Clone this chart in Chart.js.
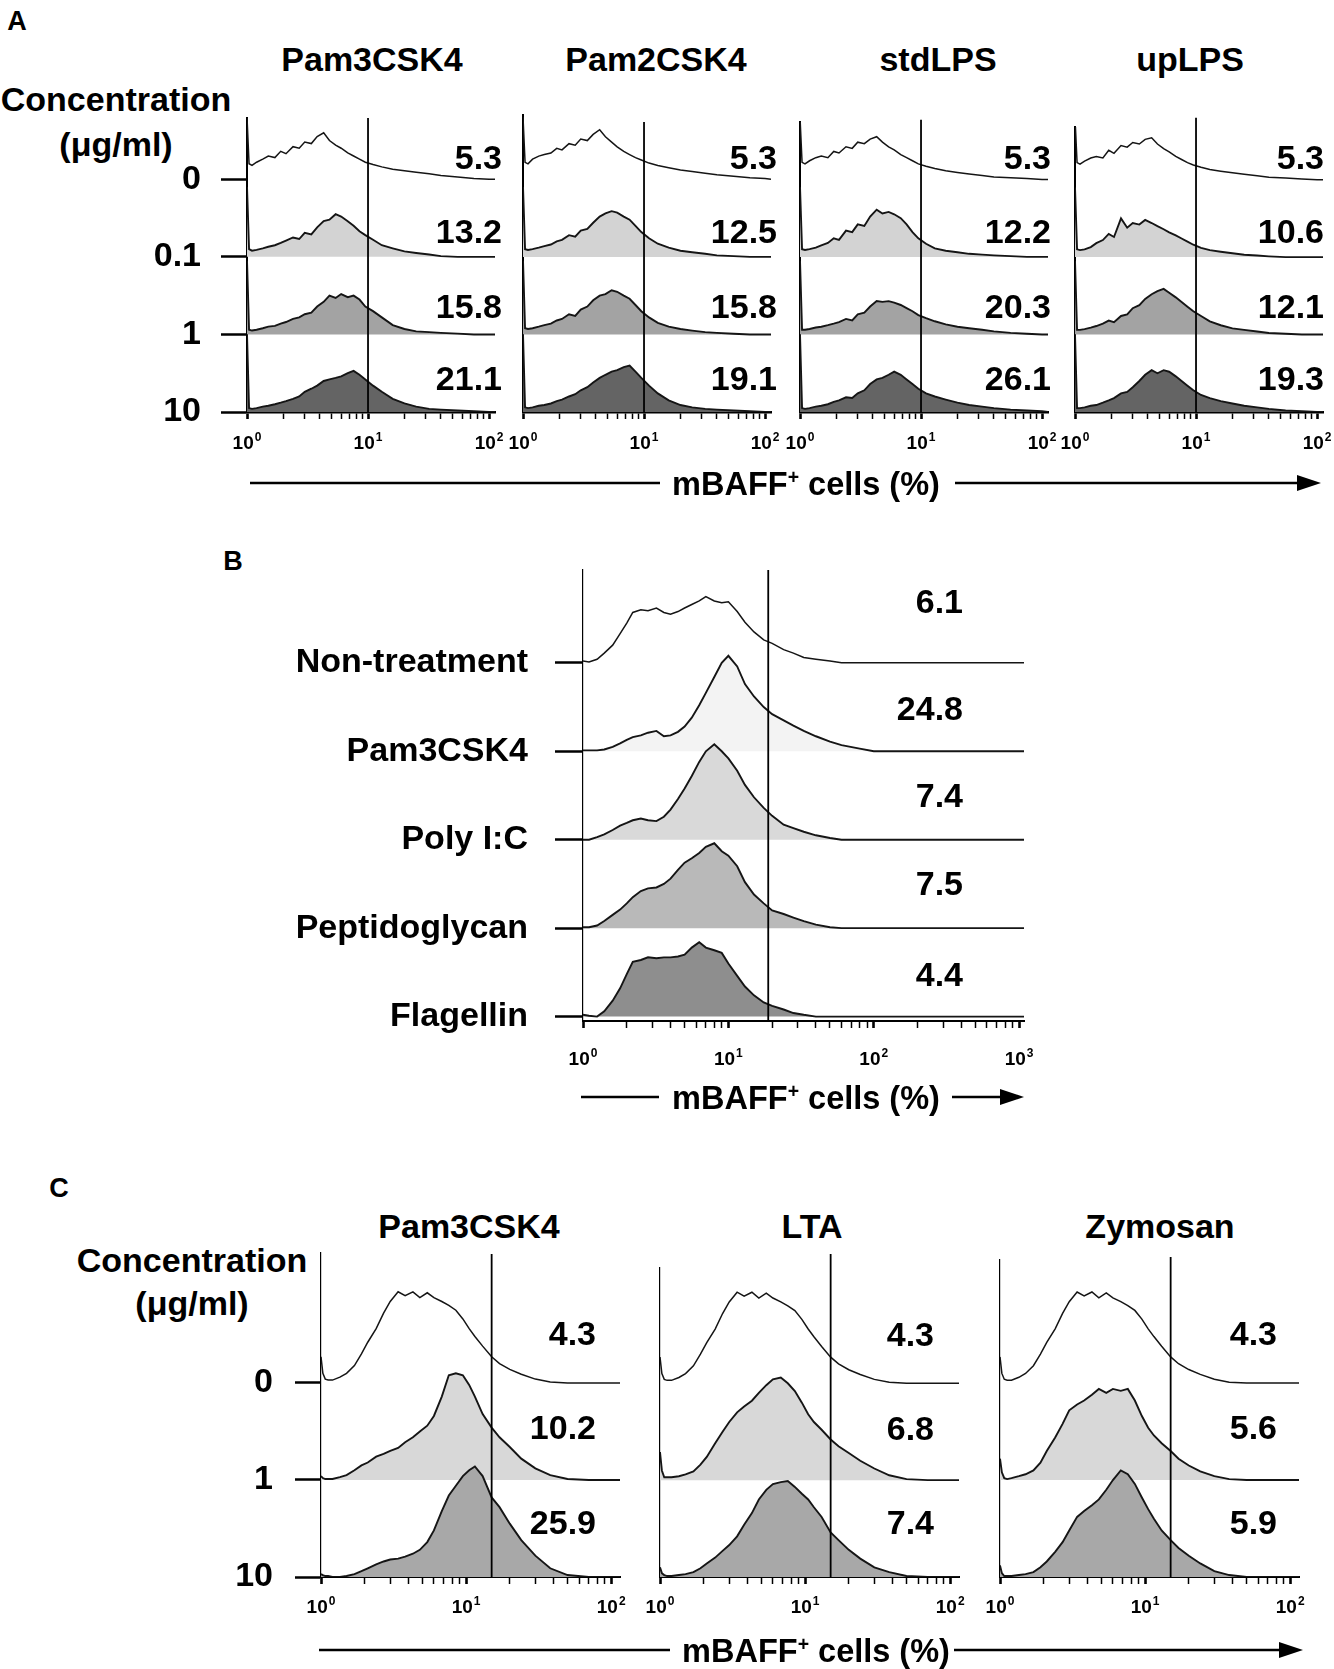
<!DOCTYPE html>
<html>
<head>
<meta charset="utf-8">
<script src="https://cdn.jsdelivr.net/npm/chart.js@4.4.1/dist/chart.umd.min.js"></script>
<style>
  body { margin: 0; background: #fff; }
  #page { position: relative; width: 1334px; height: 1669px; overflow: hidden;
          font-family: "Liberation Sans", Arial, sans-serif; font-weight: bold; color: #000; }
  .t { position: absolute; transform: translate(-50%, -50%); white-space: nowrap; line-height: 1; }
  canvas, svg { position: absolute; }
</style>
</head>
<body>
<div id="page"></div>
<script>
// ---------- data ----------
// channel positions (mBAFF intensity, log axis) where the histograms were read
const xA = [1, 1.04, 1.1, 1.2, 1.35, 1.5, 1.7, 1.9, 2.1, 2.4, 2.7, 3, 3.4, 3.8, 4.3, 4.8, 5.4, 6, 6.8, 7.6, 8.5, 9.5, 11, 13, 16, 20, 25, 32, 40, 55, 75, 100, 112];
const xB = [1, 1.1, 1.25, 1.4, 1.6, 1.8, 2, 2.2, 2.5, 2.8, 3.2, 3.6, 4, 4.5, 5, 5.6, 6.3, 7, 8, 9, 10, 11.5, 13, 15, 17.5, 20, 24, 28, 33, 40, 50, 60, 80, 100, 150, 1000, 1080];
const xC = [1, 1.03, 1.07, 1.12, 1.2, 1.35, 1.5, 1.7, 1.9, 2.1, 2.4, 2.7, 3, 3.4, 3.8, 4.3, 4.8, 5.4, 6, 6.8, 7.6, 8.5, 9.5, 10.5, 11.5, 13, 15, 17, 20, 24, 30, 38, 50, 70, 100, 115];

const ticks2 = [1, 2, 3, 4, 5, 6, 7, 8, 9, 10, 20, 30, 40, 50, 60, 70, 80, 90, 100];
const ticks3 = [1, 2, 3, 4, 5, 6, 7, 8, 9, 10, 20, 30, 40, 50, 60, 70, 80, 90, 100, 200, 300, 400, 500, 600, 700, 800, 900, 1000];
const decades2 = [1, 10, 100];
const decades3 = [1, 10, 100, 1000];

// Panel A: concentration rows 0, 0.1, 1, 10 ug/ml
const titlesA = ['Pam3CSK4', 'Pam2CSK4', 'stdLPS', 'upLPS'];
const concA = ['0', '0.1', '1', '10'];
const pam3A = [
  [80, 20, 18, 22, 26, 30, 28, 36, 33, 42, 40, 48, 46, 55, 60, 50, 44, 40, 34, 30, 26, 22, 19, 16, 13, 11, 9, 7, 5, 3, 1, 0, 0],
  [90, 10, 8, 9, 11, 13, 15, 18, 21, 25, 23, 31, 29, 38, 46, 48, 55, 52, 46, 40, 33, 28, 22, 15, 11, 7, 5, 3, 1, 0, 0, 0, 0],
  [95, 6, 5, 6, 8, 10, 11, 14, 16, 20, 22, 26, 28, 36, 42, 50, 47, 52, 48, 50, 45, 36, 30, 22, 12, 7, 4, 3, 2, 1, 0, 0, 0],
  [100, 5, 4, 5, 7, 8, 10, 12, 14, 17, 20, 26, 30, 34, 40, 42, 44, 46, 50, 53, 48, 42, 34, 26, 17, 11, 7, 4, 3, 2, 1, 0, 0]
];
const pam2A = [
  [80, 22, 20, 26, 30, 32, 34, 40, 38, 46, 44, 52, 50, 58, 64, 55, 48, 42, 36, 32, 28, 25, 21, 18, 15, 12, 10, 8, 6, 4, 2, 1, 0],
  [90, 10, 9, 10, 12, 14, 16, 20, 22, 28, 26, 34, 36, 44, 52, 56, 59, 57, 52, 48, 40, 32, 24, 17, 12, 8, 6, 4, 2, 1, 0, 0, 0],
  [95, 8, 7, 8, 10, 12, 14, 18, 20, 26, 24, 32, 36, 44, 50, 52, 57, 55, 50, 46, 38, 30, 22, 15, 10, 7, 5, 3, 2, 1, 0, 0, 0],
  [100, 6, 5, 6, 8, 9, 11, 14, 16, 20, 23, 28, 32, 38, 44, 48, 52, 54, 58, 60, 52, 44, 34, 24, 15, 9, 6, 4, 3, 2, 1, 0, 0]
];
const stdLpsA = [
  [80, 22, 20, 24, 28, 30, 28, 36, 34, 42, 40, 48, 46, 52, 55, 48, 42, 38, 32, 28, 24, 20, 17, 14, 11, 9, 7, 5, 3, 2, 1, 0, 0],
  [90, 10, 9, 10, 12, 15, 18, 24, 22, 34, 32, 42, 40, 52, 61, 56, 58, 55, 50, 42, 32, 24, 17, 11, 8, 6, 4, 3, 2, 1, 0, 0, 0],
  [95, 6, 6, 7, 9, 10, 12, 14, 16, 20, 18, 26, 28, 36, 43, 42, 43, 41, 38, 34, 30, 25, 21, 17, 13, 10, 8, 6, 4, 2, 1, 0, 0],
  [100, 5, 4, 5, 7, 8, 10, 13, 15, 19, 18, 24, 28, 36, 42, 44, 48, 52, 48, 42, 36, 30, 24, 20, 16, 12, 9, 7, 5, 3, 2, 1, 0]
];
const upLpsA = [
  [80, 22, 20, 24, 28, 30, 28, 38, 34, 44, 42, 48, 46, 52, 54, 46, 40, 36, 30, 26, 22, 19, 16, 13, 11, 9, 7, 5, 3, 2, 1, 0, 0],
  [90, 10, 9, 10, 13, 18, 22, 30, 26, 50, 38, 44, 42, 48, 44, 40, 36, 32, 28, 24, 20, 16, 12, 9, 7, 5, 3, 2, 1, 0, 0, 0, 0],
  [95, 6, 6, 7, 9, 11, 14, 18, 16, 24, 26, 34, 38, 46, 52, 56, 59, 54, 48, 42, 36, 30, 24, 17, 12, 8, 6, 4, 2, 1, 0, 0, 0],
  [100, 5, 5, 6, 8, 9, 12, 15, 18, 24, 26, 32, 40, 48, 54, 50, 54, 52, 46, 40, 34, 28, 22, 18, 14, 11, 8, 6, 4, 2, 1, 0, 0]
];
const pctA = [
  ['5.3', '13.2', '15.8', '21.1'],
  ['5.3', '12.5', '15.8', '19.1'],
  ['5.3', '12.2', '20.3', '26.1'],
  ['5.3', '10.6', '12.1', '19.3']
];
const gateA = 10;

// Panel B: TLR ligands
const treatB = ['Non-treatment', 'Pam3CSK4', 'Poly I:C', 'Peptidoglycan', 'Flagellin'];
const histB = [
  [2, 1, 4, 11, 20, 33, 45, 57, 60, 59, 62, 57, 55, 58, 62, 66, 70, 75, 70, 68, 69, 58, 46, 35, 26, 22, 15, 11, 6, 4, 2, 0, 0, 0, 0, 0, 0],
  [1, 1, 1, 2, 5, 9, 13, 16, 18, 21, 23, 17, 18, 22, 28, 38, 52, 66, 84, 100, 108, 96, 76, 62, 50, 42, 35, 29, 23, 17, 11, 7, 3, 0, 0, 0, 0],
  [0, 0, 3, 6, 11, 16, 19, 22, 24, 22, 21, 26, 34, 46, 58, 72, 88, 100, 108, 100, 92, 78, 62, 48, 36, 27, 17, 13, 9, 5, 2, 0, 0, 0, 0, 0, 0],
  [1, 1, 3, 8, 15, 21, 28, 35, 42, 45, 46, 50, 56, 66, 74, 79, 85, 92, 96, 87, 82, 70, 52, 38, 28, 20, 16, 12, 8, 4, 1, 0, 0, 0, 0, 0, 0],
  [2, 1, 0, 6, 18, 32, 48, 62, 64, 67, 66, 67, 67, 68, 70, 78, 84, 78, 75, 72, 60, 46, 34, 24, 16, 12, 8, 4, 2, 0, 0, 0, 0, 0, 0, 0, 0]
];
const pctB = ['6.1', '24.8', '7.4', '7.5', '4.4'];
const gateB = 18.8;

// Panel C: concentration rows 0, 1, 10 ug/ml (row 0 is the same untreated control)
const titlesC = ['Pam3CSK4', 'LTA', 'Zymosan'];
const concC = ['0', '1', '10'];
const ctrlC = [27, 10, 4, 3, 3, 6, 10, 18, 30, 42, 56, 72, 84, 94, 90, 94, 88, 93, 88, 84, 80, 75, 66, 56, 48, 38, 27, 20, 14, 9, 4, 1, 0, 0, 0, 0];
const pam3C = [
  ctrlC,
  [4, 2, 1, 1, 1, 3, 5, 10, 15, 18, 24, 27, 30, 33, 39, 44, 50, 56, 66, 86, 108, 110, 108, 98, 86, 68, 54, 44, 34, 22, 12, 5, 1, 0, 0, 0],
  [3, 2, 1, 1, 0, 0, 1, 3, 6, 9, 13, 16, 18, 19, 21, 24, 28, 36, 48, 68, 84, 94, 104, 110, 114, 104, 82, 72, 55, 38, 22, 9, 2, 0, 0, 0]
];
const ltaC = [
  ctrlC,
  [29, 10, 3, 3, 3, 4, 6, 9, 16, 24, 38, 50, 60, 70, 76, 82, 90, 98, 104, 106, 100, 92, 80, 68, 60, 52, 42, 35, 28, 20, 12, 5, 1, 0, 0, 0],
  [10, 4, 2, 1, 1, 2, 3, 5, 9, 14, 20, 27, 33, 42, 54, 66, 80, 90, 96, 98, 99, 93, 86, 80, 72, 62, 46, 38, 28, 19, 10, 5, 1, 0, 0, 0]
];
const zymC = [
  ctrlC,
  [22, 8, 2, 1, 2, 4, 6, 10, 18, 30, 44, 58, 72, 78, 82, 88, 94, 90, 94, 92, 94, 82, 66, 54, 46, 38, 30, 22, 15, 9, 4, 1, 0, 0, 0, 0],
  [12, 4, 1, 1, 1, 2, 3, 5, 10, 16, 26, 36, 48, 62, 68, 74, 80, 90, 100, 110, 106, 96, 82, 70, 60, 48, 38, 30, 22, 14, 6, 2, 0, 0, 0, 0]
];
const pctC = [
  ['4.3', '10.2', '25.9'],
  ['4.3', '6.8', '7.4'],
  ['4.3', '5.6', '5.9']
];
const gateC = 15;

// ---------- drawing ----------
const FONT = '"Liberation Sans", Arial, sans-serif';
const BIG = 34;
Chart.defaults.font.family = FONT;
Chart.defaults.color = '#000';
const page = document.getElementById('page');

function text(str, x, y, size) {
  const d = document.createElement('div');
  d.className = 't';
  d.style.left = x + 'px';
  d.style.top = y + 'px';
  d.style.fontSize = size + 'px';
  d.innerHTML = str;
  page.appendChild(d);
}

// x-axis caption with long arrow, as in the figure
const svgNS = 'http://www.w3.org/2000/svg';
const svg = document.createElementNS(svgNS, 'svg');
svg.setAttribute('width', 1334);
svg.setAttribute('height', 1669);
svg.style.left = '0px';
svg.style.top = '0px';
page.appendChild(svg);
function hline(x1, x2, y) {
  const l = document.createElementNS(svgNS, 'line');
  l.setAttribute('x1', x1); l.setAttribute('x2', x2);
  l.setAttribute('y1', y); l.setAttribute('y2', y);
  l.setAttribute('stroke', '#000'); l.setAttribute('stroke-width', 2.5);
  svg.appendChild(l);
}
function arrowCaption(y, x1, x2, tx, x3, x4) {
  hline(x1, x2, y);
  hline(x3, x4 - 18, y);
  const head = document.createElementNS(svgNS, 'polygon');
  head.setAttribute('points', (x4 - 24) + ',' + (y - 8) + ' ' + x4 + ',' + y + ' ' + (x4 - 24) + ',' + (y + 8));
  head.setAttribute('fill', '#000');
  svg.appendChild(head);
  text('mBAFF<sup style="font-size:0.6em;vertical-align:0.55em">+</sup> cells (%)', tx, y + 1, 32.5);
}

function labelPlugin(o) {
  return {
    id: 'panelText',
    afterDraw(chart) {
      const ctx = chart.ctx, xs = chart.scales.x, ys = chart.scales.y, ca = chart.chartArea;
      const n = o.rows.length;
      ctx.save();
      ctx.fillStyle = '#000';
      ctx.textBaseline = 'middle';
      // decade labels 10^k under the log axis
      o.decades.forEach(v => {
        const k = String(Math.round(Math.log10(v)));
        const px = xs.getPixelForValue(v);
        const y = ca.bottom + o.tickDy;
        ctx.font = 'bold 19px ' + FONT;
        const w1 = ctx.measureText('10').width;
        ctx.font = 'bold 12px ' + FONT;
        const w2 = ctx.measureText(k).width;
        const left = px - (w1 + w2 + 1) / 2;
        ctx.textAlign = 'left';
        ctx.font = 'bold 19px ' + FONT;
        ctx.fillText('10', left, y);
        ctx.font = 'bold 12px ' + FONT;
        ctx.fillText(k, left + w1 + 1, y - 6);
      });
      // row labels left of the tick marks
      if (o.rowLabels) {
        ctx.font = 'bold ' + BIG + 'px ' + FONT;
        ctx.textAlign = 'right';
        o.rowLabels.forEach((t, r) => {
          ctx.fillText(t, ca.left - o.rowTick - o.rowGap, ys.getPixelForValue((n - 1 - r) * 100));
        });
      }
      // % positive cells
      ctx.font = 'bold ' + BIG + 'px ' + FONT;
      ctx.textAlign = 'right';
      o.values.forEach((t, r) => {
        ctx.fillText(t, ca.right + o.valueDx, ys.getPixelForValue((n - 1 - r) * 100) - o.valueDy[r]);
      });
      ctx.restore();
    }
  };
}

function isDecade(v) {
  const l = Math.log10(v);
  return Math.abs(l - Math.round(l)) < 1e-9;
}

function histPanel(o) {
  const padT = 14, padR = 24, xAxisH = 60;
  const plotH = Math.round((o.yMax - o.yMin) * o.unit);
  const top = o.bottom - plotH;
  const cw = o.yW + o.width + padR, ch = padT + plotH + xAxisH;
  const canvas = document.createElement('canvas');
  canvas.width = cw; canvas.height = ch;
  canvas.style.width = cw + 'px'; canvas.style.height = ch + 'px';
  canvas.style.left = (o.x0 - o.yW) + 'px';
  canvas.style.top = (top - padT) + 'px';
  page.appendChild(canvas);

  const n = o.rows.length;
  const bases = o.rows.map((_, r) => (n - 1 - r) * 100);
  const sets = o.rows.map((counts, r) => ({
    data: o.xs.map((x, i) => ({ x: x, y: counts[i] + bases[r] })),
    fill: o.fills[r] ? { value: bases[r] } : false,
    backgroundColor: o.fills[r] || 'rgba(0,0,0,0)',
    borderColor: '#151515',
    borderWidth: o.fills[r] ? 1.9 : 1.5,
    pointRadius: 0,
    tension: 0,
    order: n - r
  }));
  sets.push({
    data: [{ x: o.gate, y: o.yMin }, { x: o.gate, y: o.gateTop }],
    borderColor: '#000', borderWidth: 1.8, pointRadius: 0, fill: false, clip: false, order: 0
  });

  new Chart(canvas, {
    type: 'line',
    data: { datasets: sets },
    options: {
      responsive: false,
      animation: false,
      events: [],
      layout: { padding: { top: padT, right: padR, left: 0, bottom: 0 } },
      plugins: { legend: { display: false }, tooltip: { enabled: false } },
      scales: {
        x: {
          type: 'logarithmic', min: 1, max: o.xMax,
          afterBuildTicks: s => { s.ticks = o.ticks.map(v => ({ value: v })); },
          afterFit: s => { s.height = xAxisH; },
          ticks: { display: false },
          grid: {
            display: true, drawOnChartArea: false, drawTicks: true, tickLength: 7, tickColor: '#000',
            tickWidth: c => (c.tick && isDecade(c.tick.value)) ? 2.6 : 1.5
          },
          border: { display: true, color: '#000', width: o.xBorder }
        },
        y: {
          type: 'linear', min: o.yMin, max: o.yMax,
          afterBuildTicks: s => { s.ticks = bases.map(v => ({ value: v })); },
          afterFit: s => { s.width = o.yW; },
          ticks: { display: false },
          grid: { display: !!o.rowLabels, drawOnChartArea: false, drawTicks: true, tickLength: o.rowTick || 0, tickWidth: 2.5, tickColor: '#000' },
          border: { display: true, color: '#000', width: o.yBorder }
        }
      }
    },
    plugins: [labelPlugin(o)]
  });
}

// ----- panel A -----
text('A', 17, 21, 27);
text('Concentration', 116, 99, BIG);
text('(&mu;g/ml)', 116, 144, BIG);
const colsA = [
  { x0: 247, rows: pam3A, top: 118, gateTop: 379, titleX: 372, dx: 7 },
  { x0: 523, rows: pam2A, top: 115, gateTop: 374, titleX: 656, dx: 6 },
  { x0: 800, rows: stdLpsA, top: 122, gateTop: 377, titleX: 938, dx: 3 },
  { x0: 1075, rows: upLpsA, top: 127, gateTop: 380, titleX: 1190, dx: 1 }
];
colsA.forEach((c, i) => {
  text(titlesA[i], c.titleX, 59, BIG);
  histPanel({
    x0: c.x0, width: 248, xMax: 112, xs: xA, rows: c.rows, ticks: ticks2, decades: decades2,
    bottom: 412, unit: 0.775, yMin: 0, yMax: Math.round((412 - c.top) / 0.775), gateTop: c.gateTop, gate: gateA,
    fills: [null, '#d3d3d3', '#a3a3a3', '#646464'],
    values: pctA[i], valueDx: c.dx, valueDy: [20, 23, 26, 31], tickDy: 32,
    rowLabels: i === 0 ? concA : null, rowTick: 26, rowGap: 20,
    yW: i === 0 ? 120 : 20, xBorder: 2.5, yBorder: 2
  });
});
arrowCaption(483, 250, 660, 806, 955, 1321);

// ----- panel B -----
text('B', 233, 561, 27);
histPanel({
  x0: 583, width: 441, xMax: 1080, xs: xB, rows: histB, ticks: ticks3, decades: decades3,
  bottom: 1021, unit: 0.885, yMin: -5, yMax: 505, gateTop: 505, gate: gateB,
  fills: [null, '#f3f3f3', '#d9d9d9', '#b9b9b9', '#8e8e8e'],
  values: pctB, valueDx: -61, valueDy: [59, 41, 42, 43, 40], tickDy: 39,
  rowLabels: treatB, rowTick: 28, rowGap: 27,
  yW: 320, xBorder: 2, yBorder: 1.2
});
arrowCaption(1097, 581, 659, 806, 952, 1024);

// ----- panel C -----
text('C', 59, 1188, 27);
text('Concentration', 192, 1260, BIG);
text('(&mu;g/ml)', 192, 1303, BIG);
const colsC = [
  { x0: 321, rows: pam3C, top: 1253, gateTop: 333, titleX: 469, dx: -24 },
  { x0: 660, rows: ltaC, top: 1268, gateTop: 334, titleX: 812, dx: -25 },
  { x0: 1000, rows: zymC, top: 1260, gateTop: 330, titleX: 1160, dx: -22 }
];
colsC.forEach((c, i) => {
  text(titlesC[i], c.titleX, 1226, BIG);
  histPanel({
    x0: c.x0, width: 299, xMax: 115, xs: xC, rows: c.rows, ticks: ticks2, decades: decades2,
    bottom: 1577, unit: 0.97, yMin: 0, yMax: Math.round((1577 - c.top) / 0.97), gateTop: c.gateTop, gate: gateC,
    fills: [null, '#d8d8d8', '#a8a8a8'],
    values: pctC[i], valueDx: c.dx, valueDy: [47, 50, 52], tickDy: 31,
    rowLabels: i === 0 ? concC : null, rowTick: 26, rowGap: 22,
    yW: i === 0 ? 120 : 20, xBorder: 2, yBorder: 1.2
  });
});
arrowCaption(1650, 319, 670, 816, 954, 1303);
</script>
</body>
</html>
